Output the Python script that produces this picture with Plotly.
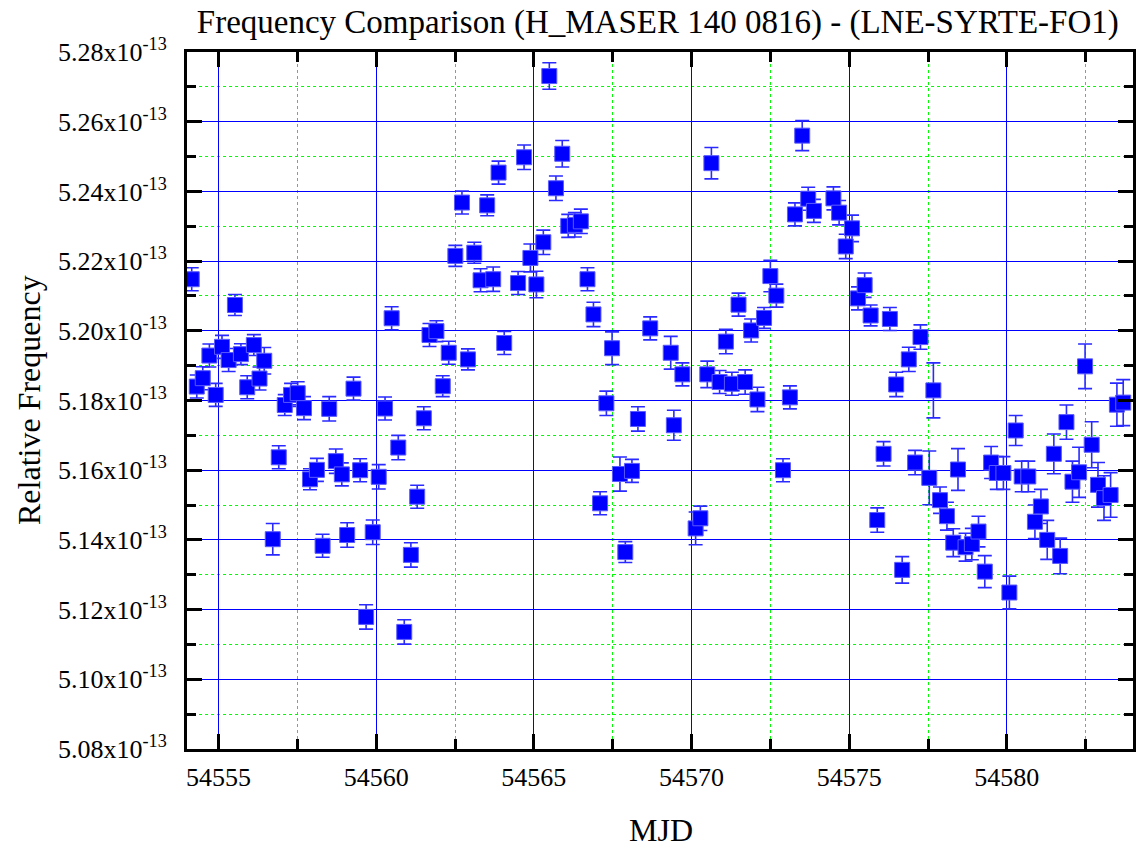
import plotly.graph_objects as go

# ---- data ----
mjd = [
    54554.15, 54554.31, 54554.50, 54554.71, 54554.91, 54555.11, 54555.32, 54555.52, 54555.71, 54555.91,
    54556.12, 54556.30, 54556.45, 54556.72, 54556.91, 54557.10, 54557.30, 54557.51, 54557.71, 54557.90,
    54558.12, 54558.30, 54558.51, 54558.72, 54558.91, 54559.08, 54559.28, 54559.49, 54559.68, 54559.89,
    54560.08, 54560.28, 54560.49, 54560.70, 54560.89, 54561.10, 54561.30, 54561.51, 54561.69, 54561.91,
    54562.11, 54562.30, 54562.51, 54562.72, 54562.91, 54563.11, 54563.31, 54563.52, 54563.71, 54563.88,
    54564.06, 54564.50, 54564.69, 54564.89, 54565.08, 54565.30, 54565.49, 54565.70, 54565.90, 54566.09,
    54566.30, 54566.49, 54566.70, 54566.89, 54567.10, 54567.30, 54567.48, 54567.73, 54567.90, 54568.11,
    54568.30, 54568.69, 54569.34, 54569.44, 54569.71, 54570.13, 54570.28, 54570.50, 54570.63, 54570.89,
    54571.09, 54571.28, 54571.49, 54571.70, 54571.89, 54572.09, 54572.30, 54572.50, 54572.69, 54572.90,
    54573.12, 54573.28, 54573.51, 54573.70, 54573.88, 54574.50, 54574.68, 54574.89, 54575.09, 54575.28,
    54575.49, 54575.68, 54575.89, 54576.09, 54576.29, 54576.49, 54576.68, 54576.89, 54577.09, 54577.26,
    54577.54, 54577.67, 54577.88, 54578.10, 54578.30, 54578.45, 54578.69, 54578.89, 54579.10, 54579.30,
    54579.50, 54579.68, 54579.89, 54580.08, 54580.28, 54580.47, 54580.68, 54580.89, 54581.08, 54581.28,
    54581.49, 54581.69, 54581.89, 54582.08, 54582.29, 54582.48, 54582.69, 54582.89, 54583.08, 54583.29,
    54583.49, 54583.69,
]

# relative frequency, in units of 1e-13
freq_e13 = [
    5.2148, 5.1840, 5.1864, 5.1929, 5.1816, 5.1954, 5.1916, 5.2074, 5.1933, 5.1838,
    5.1959, 5.1863, 5.1914, 5.1402, 5.1637, 5.1787, 5.1816, 5.1821, 5.1778, 5.1574,
    5.1601, 5.1383, 5.1776, 5.1626, 5.1588, 5.1414, 5.1834, 5.1600, 5.1179, 5.1422,
    5.1581, 5.1777, 5.2036, 5.1665, 5.1136, 5.1357, 5.1524, 5.1749, 5.1988, 5.1999,
    5.1841, 5.1937, 5.2215, 5.2368, 5.1918, 5.2224, 5.2145, 5.2360, 5.2148, 5.2454,
    5.1965, 5.2137, 5.2498, 5.2209, 5.2133, 5.2254, 5.2731, 5.2409, 5.2508, 5.2301,
    5.2304, 5.2314, 5.2148, 5.2047, 5.1505, 5.1792, 5.1950, 5.1589, 5.1365, 5.1598,
    5.1747, 5.2007, 5.1937, 5.1729, 5.1875, 5.1433, 5.1462, 5.1875, 5.2481, 5.1853,
    5.1969, 5.1848, 5.2075, 5.1853, 5.2001, 5.1803, 5.2037, 5.2157, 5.2101, 5.1600,
    5.1809, 5.2334, 5.2560, 5.2379, 5.2344, 5.2380, 5.2339, 5.2242, 5.2294, 5.2093,
    5.2131, 5.2044, 5.1457, 5.1647, 5.2034, 5.1846, 5.1314, 5.1918, 5.1622, 5.1982,
    5.1578, 5.1829, 5.1514, 5.1468, 5.1392, 5.1602, 5.1379, 5.1388, 5.1424, 5.1309,
    5.1622, 5.1592, 5.1592, 5.1249, 5.1714, 5.1582, 5.1582, 5.1452, 5.1496, 5.1400,
    5.1647, 5.1354, 5.1738, 5.1567, 5.1594, 5.1898, 5.1673, 5.1558, 5.1520, 5.1529,
    5.1788, 5.1794,
]

# error bar half-lengths, in units of 1e-13
err_e13 = [
    0.0033, 0.0033, 0.0033, 0.0033, 0.0033, 0.0033, 0.0033, 0.0030, 0.0030, 0.0033,
    0.0030, 0.0033, 0.0038, 0.0045, 0.0033, 0.0030, 0.0033, 0.0033, 0.0033, 0.0030,
    0.0033, 0.0033, 0.0035, 0.0035, 0.0033, 0.0035, 0.0033, 0.0033, 0.0035, 0.0035,
    0.0035, 0.0033, 0.0033, 0.0035, 0.0035, 0.0035, 0.0033, 0.0033, 0.0033, 0.0030,
    0.0030, 0.0033, 0.0030, 0.0033, 0.0030, 0.0030, 0.0033, 0.0030, 0.0035, 0.0033,
    0.0033, 0.0033, 0.0035, 0.0040, 0.0038, 0.0035, 0.0038, 0.0035, 0.0038, 0.0033,
    0.0035, 0.0035, 0.0033, 0.0035, 0.0033, 0.0035, 0.0047, 0.0049, 0.0030, 0.0033,
    0.0035, 0.0033, 0.0047, 0.0043, 0.0033, 0.0047, 0.0035, 0.0038, 0.0045, 0.0033,
    0.0035, 0.0033, 0.0033, 0.0035, 0.0033, 0.0035, 0.0030, 0.0045, 0.0033, 0.0033,
    0.0033, 0.0033, 0.0043, 0.0033, 0.0033, 0.0033, 0.0035, 0.0035, 0.0038, 0.0033,
    0.0035, 0.0030, 0.0035, 0.0035, 0.0033, 0.0035, 0.0038, 0.0035, 0.0035, 0.0035,
    0.0077, 0.0079, 0.0038, 0.0040, 0.0040, 0.0060, 0.0040, 0.0045, 0.0044, 0.0046,
    0.0046, 0.0047, 0.0047, 0.0047, 0.0043, 0.0044, 0.0044, 0.0048, 0.0049, 0.0056,
    0.0057, 0.0051, 0.0049, 0.0059, 0.0072, 0.0064, 0.0066, 0.0064, 0.0064, 0.0064,
    0.0062, 0.0066,
]

y_tick_e13 = [5.08, 5.10, 5.12, 5.14, 5.16, 5.18, 5.20, 5.22, 5.24, 5.26, 5.28]
y_minor_e13 = [5.09, 5.11, 5.13, 5.15, 5.17, 5.19, 5.21, 5.23, 5.25, 5.27]
x_tick_vals = [54555, 54560, 54565, 54570, 54575, 54580]
x_minor_vals = [54557.5, 54562.5, 54567.5, 54572.5, 54577.5, 54582.5]

title_text = "Frequency Comparison (H_MASER 140 0816) - (LNE-SYRTE-FO1)"
x_title = "MJD"
y_title = "Relative Frequency"

# ---- figure ----
SCALE = 1e-13
y_vals = [v * SCALE for v in freq_e13]
y_errs = [v * SCALE for v in err_e13]
y_tickvals = [v * SCALE for v in y_tick_e13]
y_minorvals = [v * SCALE for v in y_minor_e13]
y_ticktext = [f"{v:.2f}x10<sup>-13</sup>" for v in y_tick_e13]

BLUE = "#0000ff"
GREEN = "#00ff00"
FONT = "Liberation Serif"

fig = go.Figure(
    go.Scatter(
        x=mjd,
        y=y_vals,
        mode="markers",
        marker=dict(symbol="square", size=15, color=BLUE,
                    line=dict(width=1, color="#5a5aff")),
        error_y=dict(type="data", array=y_errs, visible=True,
                     color="#2a2aff", thickness=1.6, width=7),
        hoverinfo="x+y",
    )
)

axis_common = dict(
    showline=True, linewidth=3, linecolor="black", mirror="ticks",
    ticks="inside", ticklen=15, tickwidth=3, tickcolor="black",
    showgrid=True, gridcolor=BLUE, gridwidth=1.2, zeroline=False,
    tickfont=dict(family=FONT, size=26, color="black"),
)

fig.update_layout(
    width=1138, height=847,
    margin=dict(l=187, r=2, t=52, b=98),
    paper_bgcolor="white", plot_bgcolor="white",
    font=dict(family=FONT, color="black", size=26),
    showlegend=False,
    title=dict(text=title_text, x=0.578, xanchor="center",
               y=1 - 21 / 847, yanchor="middle",
               font=dict(family=FONT, size=33, color="black")),
    xaxis=dict(
        range=[54554, 54584], tickmode="array", tickvals=x_tick_vals,
        ticktext=[str(v) for v in x_tick_vals],
        ticklabelstandoff=3,
        minor=dict(tickmode="array", tickvals=x_minor_vals, ticks="inside",
                   ticklen=10, tickwidth=3, tickcolor="black", showgrid=True,
                   gridcolor=GREEN, griddash="dot", gridwidth=1.3),
        **axis_common,
    ),
    yaxis=dict(
        range=[5.08e-13, 5.28e-13], tickmode="array", tickvals=y_tickvals,
        ticktext=y_ticktext, ticklabelstandoff=12,
        minor=dict(tickmode="array", tickvals=y_minorvals, ticks="inside",
                   ticklen=9, tickwidth=3, tickcolor="black", showgrid=True,
                   gridcolor=GREEN, griddash="dot", gridwidth=1.3),
        **axis_common,
    ),
    annotations=[
        dict(text=x_title, xref="paper", yref="paper",
             x=(663 - 187) / 949, y=-(830 - 749) / 697,
             xanchor="center", yanchor="middle", showarrow=False,
             font=dict(family=FONT, size=32, color="black")),
        dict(text=y_title, xref="paper", yref="paper",
             x=(28 - 187) / 949, y=0.5, textangle=-90,
             xanchor="center", yanchor="middle", showarrow=False,
             font=dict(family=FONT, size=32, color="black")),
    ],
)

fig.write_html(
    "out.html",
    config={"displayModeBar": False},
    post_script="document.body.style.margin='0';document.body.style.padding='0';",
)
